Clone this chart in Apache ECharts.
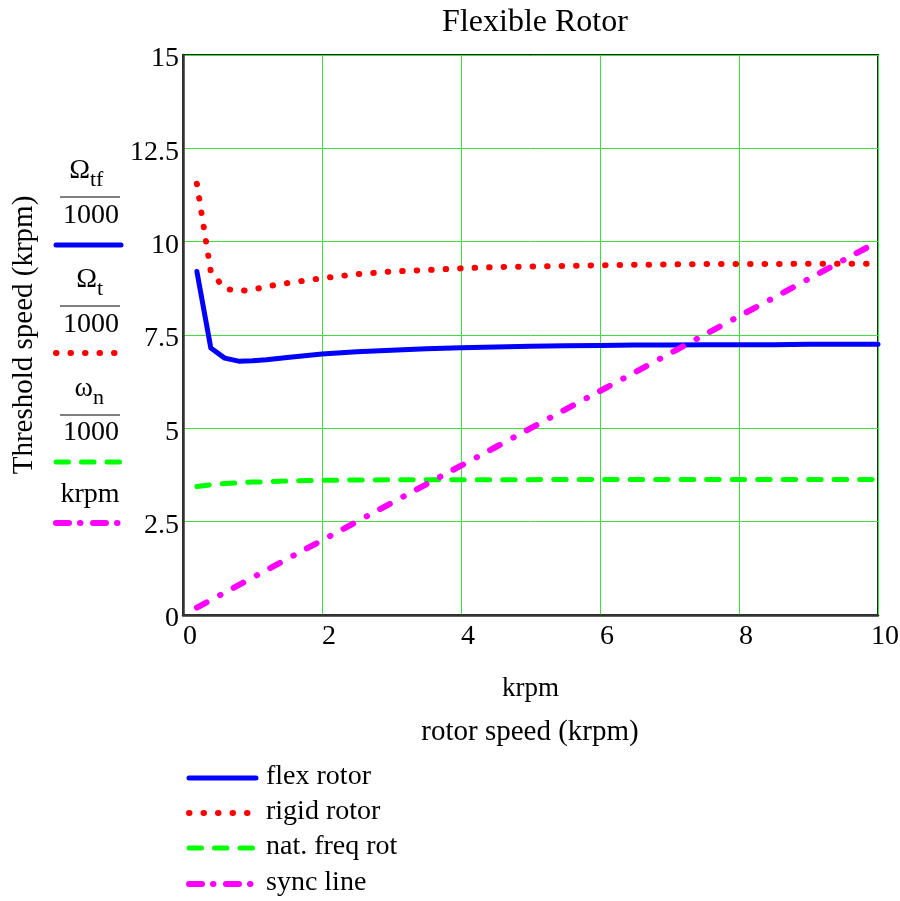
<!DOCTYPE html>
<html><head><meta charset="utf-8">
<script src="https://cdn.jsdelivr.net/npm/echarts@6/dist/echarts.min.js"></script>
<style>html,body{margin:0;padding:0;background:#fff}#c{width:900px;height:901px}</style>
</head><body><div id="c"></div>
<script>
const rotorSpeed = [0.2,0.4,0.6,0.8,1,1.2,1.5,2,2.5,3,3.5,4,4.5,5,5.5,6,6.5,7,7.5,8,8.5,9,9.5,10];
const flexRotor  = [9.2,7.15,6.88,6.80,6.81,6.84,6.90,6.99,7.05,7.09,7.13,7.16,7.18,7.20,7.21,7.22,7.23,7.23,7.24,7.24,7.24,7.25,7.25,7.25];
const rigidRotor = [11.55,9.2,8.74,8.68,8.71,8.80,8.89,9.02,9.13,9.20,9.24,9.285,9.32,9.335,9.35,9.37,9.38,9.39,9.40,9.40,9.40,9.41,9.41,9.41];
const natFreqRot = [3.44,3.49,3.52,3.54,3.56,3.57,3.59,3.61,3.615,3.62,3.62,3.625,3.625,3.625,3.63,3.63,3.63,3.63,3.63,3.63,3.63,3.63,3.63,3.63];
const syncLine   = [0.2,0.4,0.6,0.8,1,1.2,1.5,2,2.5,3,3.5,4,4.5,5,5.5,6,6.5,7,7.5,8,8.5,9,9.5,10];
const seriesNames = ['flex rotor','rigid rotor','nat. freq rot','sync line'];
const yTicks = [0,2.5,5,7.5,10,12.5,15];
const xTicks = [0,2,4,6,8,10];

const FONT = 'Liberation Serif';
const pairs = arr => rotorSpeed.map((x,i)=>[x,arr[i]]);
const styles = [
  {color:'#0000ff', width:5, type:'solid'},
  {color:'#ff0000', width:6, type:[0.5,14]},
  {color:'#00ff00', width:5, type:[12.5,13]},
  {color:'#ff00ff', width:6, type:[11,15.3,0.5,14.8]}
];
const legendDash = [[0.5,14],[12.5,13],[13,11,0.5,12.5]];
const chart = echarts.init(document.getElementById('c'), null, {renderer:'canvas'});

function legendLine(x1,x2,y,st,dash){
  return {type:'line', shape:{x1:x1,y1:y,x2:x2,y2:y}, style:{stroke:st.color, lineWidth:st.width, lineDash: dash||null, lineCap:'round'}};
}
function txt(x,y,t,size,align){
  return {type:'text', x:x, y:y, style:{text:t, font: size+'px "'+FONT+'"', fill:'#000', textAlign:align||'left', textVerticalAlign:'middle'}};
}
const graphics = [
  // left stacked legend
  txt(90,171,'\u03A9',28,'right'), txt(90,180,'tf',22,'left'),
  {type:'line', shape:{x1:60,y1:197,x2:120,y2:197}, style:{stroke:'#000',lineWidth:1.2}},
  txt(91,216,'1000',28,'center'),
  legendLine(56,121,245,styles[0]),
  txt(97,280,'\u03A9',28,'right'), txt(97,289,'t',22,'left'),
  {type:'line', shape:{x1:60,y1:306,x2:120,y2:306}, style:{stroke:'#000',lineWidth:1.2}},
  txt(91,325,'1000',28,'center'),
  legendLine(56,121,353,styles[1],legendDash[0]),
  txt(93,389,'\u03C9',28,'right'), txt(93,398,'n',22,'left'),
  {type:'line', shape:{x1:60,y1:415,x2:120,y2:415}, style:{stroke:'#000',lineWidth:1.2}},
  txt(91,433,'1000',28,'center'),
  legendLine(56,121,462,styles[2],legendDash[1]),
  txt(90,495,'krpm',28,'center'),
  legendLine(56,121,523,styles[3],legendDash[2]),
  // x axis second title
  txt(530,732,'rotor speed (krpm)',29,'center')
];
// bottom legend
const legY = [778,813,848,884];
seriesNames.forEach((n,i)=>{
  graphics.push(legendLine(189,256,legY[i],styles[i], i===0?null:legendDash[i-1]));
  graphics.push(txt(266,legY[i]-1,n,28,'left'));
});

chart.setOption({
  animation:false,
  backgroundColor:'#fff',
  title:{text:'Flexible Rotor', left:530, top:2, textAlign:'center', textStyle:{fontFamily:FONT, fontSize:32, fontWeight:'normal', color:'#000'}},
  grid:{left:183, right:22, top:55, bottom:286, show:true, borderColor:'#1a2a1a', borderWidth:2, containLabel:false, outerBoundsMode:'none'},
  xAxis:{type:'value', min:xTicks[0], max:xTicks[xTicks.length-1], interval:2,
    name:'krpm', nameLocation:'middle', nameGap:60, nameTextStyle:{fontFamily:FONT, fontSize:27, color:'#000'},
    axisLine:{show:true, lineStyle:{color:'#333', width:2.5}}, axisTick:{show:false},
    axisLabel:{fontFamily:FONT, fontSize:28, color:'#000', margin:8, padding:[0,0,0,14]},
    splitLine:{show:true, lineStyle:{color:'#3ee03e', width:1}}},
  yAxis:{type:'value', min:yTicks[0], max:yTicks[yTicks.length-1], interval:2.5,
    name:'Threshold speed (krpm)', nameLocation:'middle', nameGap:144, nameTextStyle:{fontFamily:FONT, fontSize:29, color:'#000'},
    axisLine:{show:true, lineStyle:{color:'#333', width:2.5}}, axisTick:{show:false},
    axisLabel:{fontFamily:FONT, fontSize:28, color:'#000', margin:4, verticalAlign:'top', lineHeight:8},
    splitLine:{show:true, lineStyle:{color:'#3ee03e', width:1}}},
  series:[flexRotor,rigidRotor,natFreqRot,syncLine].map((d,i)=>({
    type:'line', name:seriesNames[i], data:pairs(d), symbol:'none', smooth:false,
    lineStyle:{color:styles[i].color, width:styles[i].width, type:styles[i].type, cap:'round', join:'round'},
    z: [5,4,3,6][i]
  })),
  graphic:graphics
});
</script>
</body></html>
